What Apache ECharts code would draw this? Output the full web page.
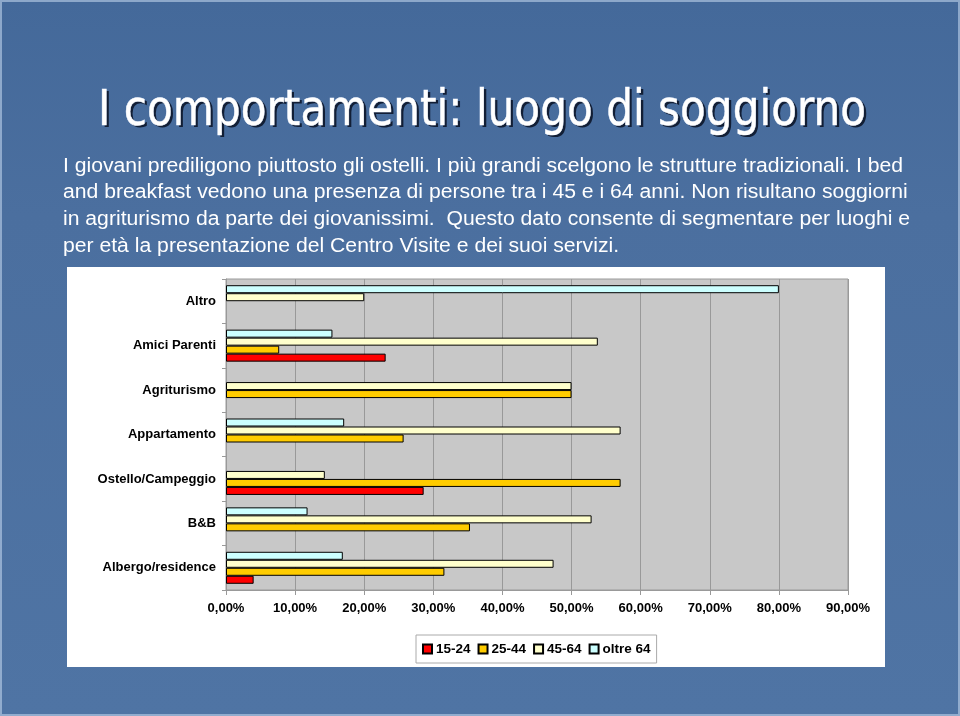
<!DOCTYPE html>
<html>
<head>
<meta charset="utf-8">
<script src="https://cdn.jsdelivr.net/npm/echarts@6/dist/echarts.min.js"></script>
<style>
html,body{margin:0;padding:0;background:#4a6e9e;}
#chart{width:960px;height:716px;}
</style>
</head>
<body>
<div id="chart"></div>
<script>
// ---- data ----
const categories = ['Albergo/residence','B&B','Ostello/Campeggio','Appartamento','Agriturismo','Amici Parenti','Altro'];
const seriesNames = ['15-24','25-44','45-64','oltre 64'];
const v1524   = [4.0, null, 28.6, null, null, 23.1, null];
const v2544   = [31.6, 35.3, 57.1, 25.7, 50.0, 7.7, null];
const v4564   = [47.4, 52.9, 14.3, 57.1, 50.0, 53.8, 20.0];
const vOltre64 = [16.9, 11.8, null, 17.1, null, 15.4, 80.0];
const xTicks = [0,10,20,30,40,50,60,70,80,90];

const titleText = 'I comportamenti: luogo di soggiorno';
const bodyLines = [
  'I giovani prediligono piuttosto gli ostelli. I più grandi scelgono le strutture tradizionali. I bed',
  'and breakfast vedono una presenza di persone tra i 45 e i 64 anni. Non risultano soggiorni',
  'in agriturismo da parte dei giovanissimi.  Questo dato consente di segmentare per luoghi e',
  'per età la presentazione del Centro Visite e dei suoi servizi.'
];

// ---- layout helpers ----
const mctx = document.createElement('canvas').getContext('2d');
function measure(txt, size, family){ mctx.font = size + 'px ' + family; return mctx.measureText(txt).width; }
const titleFamily = '"DejaVu Sans Condensed", "DejaVu Sans", sans-serif';
const titleSize = 50;
const titleScale = 768 / measure(titleText, titleSize, titleFamily);
const bodyFamily = '"Liberation Sans", Arial, sans-serif';
const bodySize = 20;
const bodyScale = 840 / measure(bodyLines[0], bodySize, bodyFamily);

const colors = ['#FF0000','#FFCC00','#FFFFCC','#CCFFFF'];
const valueSets = [v1524, v2544, v4564, vOltre64];

const graphics = [
  {type:'rect', z:-10, shape:{x:1,y:1,width:958,height:714}, style:{fill:'none', stroke:'rgba(190,210,235,0.6)', lineWidth:2}, silent:true},
  {type:'rect', z:-5, shape:{x:67,y:267,width:818,height:400}, style:{fill:'#FFFFFF'}, silent:true},
  // title shadow
  {type:'text', x:484.5, y:114.5, scaleX:titleScale, z:9,
    style:{text:titleText, fontSize:titleSize, fontFamily:titleFamily, fill:'rgba(12,22,42,0.9)',
      align:'center', verticalAlign:'middle', textAlign:'center', textVerticalAlign:'middle'}},
  {type:'text', x:482, y:112, scaleX:titleScale, z:10,
    style:{text:titleText, fontSize:titleSize, fontFamily:titleFamily, fill:'#FFFFFF', stroke:'#e8f0ff', lineWidth:0.5,
      align:'center', verticalAlign:'middle', textAlign:'center', textVerticalAlign:'middle'}}
];
bodyLines.forEach((ln,i)=>{
  graphics.push({type:'text', x:63, y:166 + i*26.8, scaleX:bodyScale, z:10,
    style:{text:ln, fontSize:bodySize, fontFamily:bodyFamily, fill:'#FFFFFF', align:'left', verticalAlign:'middle', textAlign:'left', textVerticalAlign:'middle'}});
});

// series listed top-to-bottom within a group (oltre 64 drawn at top), legend keeps original order
const order = [3,2,1,0];

const chart = echarts.init(document.getElementById('chart'), null, {renderer:'canvas'});
chart.setOption({
  animation:false,
  backgroundColor:{type:'linear',x:0,y:0,x2:0,y2:1,colorStops:[
    {offset:0,color:'#44699a'},{offset:0.3,color:'#4b6f9f'},{offset:1,color:'#4f74a4'}]},
  graphic: graphics,
  grid:{left:226, right:112, top:279, bottom:126, show:true, backgroundColor:'#C8C8C8', borderColor:'#9a9a9a', borderWidth:1, containLabel:false},
  legend:{
    data: seriesNames,
    left:416, top:635,
    padding:[7,6,7,6],
    itemGap:7, itemWidth:9, itemHeight:9,
    borderColor:'#aaaaaa', borderWidth:1,
    icon:'rect',
    textStyle:{fontFamily:'"Liberation Sans", Arial, sans-serif', fontWeight:'bold', fontSize:13.5, color:'#000', padding:[0,0,0,-1]}
  },
  xAxis:{
    type:'value', min:0, max:90, interval:10,
    axisLine:{show:true, lineStyle:{color:'#999'}},
    axisTick:{show:true, length:5, lineStyle:{color:'#999'}},
    splitLine:{show:true, lineStyle:{color:'#999', width:1}},
    axisLabel:{margin:12, color:'#000', fontFamily:'"Liberation Sans", Arial, sans-serif', fontWeight:'bold', fontSize:13,
      formatter: v => v.toFixed(2).replace('.', ',') + '%'}
  },
  yAxis:{
    type:'category', data: categories,
    axisLine:{show:true, lineStyle:{color:'#999'}},
    axisTick:{show:true, length:4, lineStyle:{color:'#999'}},
    axisLabel:{margin:10, color:'#000', fontFamily:'"Liberation Sans", Arial, sans-serif', fontWeight:'bold', fontSize:13}
  },
  series: order.map(i=>({
    name:seriesNames[i], type:'bar', data: valueSets[i],
    barWidth:8, barGap:'0%',
    itemStyle:{color:colors[i], borderColor:'#000', borderWidth:1}
  }))
});
</script>
</body>
</html>
